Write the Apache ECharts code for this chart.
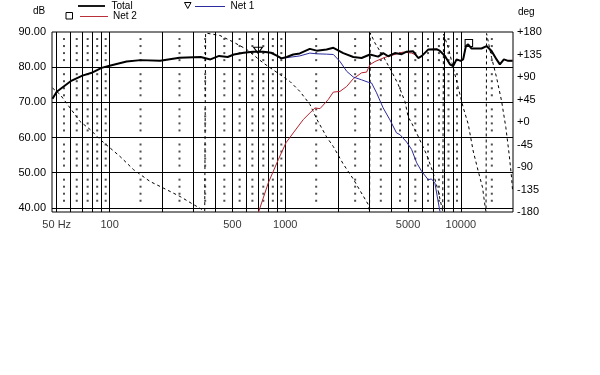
<!DOCTYPE html>
<html><head><meta charset="utf-8">
<script src="https://cdn.jsdelivr.net/npm/echarts@6/dist/echarts.min.js"></script>
<style>html,body{margin:0;padding:0;background:#fff}#c{width:600px;height:375px}</style>
</head><body><div id="c"></div>
<script>
// ---- data ----
const totalFreq = [47.3,50,60,70,80,90,100,125,150,194,250,330,375,420,470,510,580,655,750,830,900,950,1020,1110,1210,1380,1510,1720,1880,2140,2440,2720,3035,3380,3610,3860,4210,4600,4910,5350,5715,6000,6510,7270,7600,8110,8660,9040,9450,9960,10300,10680,11000,11500,13100,14000,14950,15960,16670,17570,18580,19700];
const totalDb   = [71.0,73.0,76.0,77.6,78.5,79.8,80.4,81.6,82.0,81.8,82.7,82.9,82.2,83.2,82.9,83.6,84.1,84.4,84.4,84.1,83.2,82.5,82.9,83.6,83.9,85.2,84.7,85.0,85.5,84.0,82.9,82.6,83.6,83.0,84.0,83.1,84.0,83.7,84.4,84.5,82.6,83.2,85.0,85.1,84.6,83.2,80.8,80.3,82.2,81.8,82.2,86.0,86.5,85.3,85.3,86.0,84.6,82.2,80.8,82.2,81.8,81.8];

const net1Freq = [580,655,750,830,900,950,1020,1210,1380,1510,1720,1880,2050,2240,2440,2720,2970,3100,3310,3610,3945,4300,4500,4910,5240,5600,5975,6510,6800,7110,7330,7600];
const net1Db   = [84.1,84.4,84.4,84.1,83.2,82.5,82.7,83.2,84.0,83.8,83.7,83.6,81.6,78.8,77.2,76.4,75.7,75.5,72.7,68.4,65.0,61.3,60.8,58.7,56.6,52.8,50.4,48.0,48.2,47.1,43.3,38.9];

const net2Freq = [705,801,913,1010,1111,1267,1383,1477,1577,1758,1877,2049,2237,2439,2723,2906,3035,3241,3614,3858,4307,4696,5243,5474,5715,6000,6510,7270,7600,8110,8660,9040,9450,9960,10300,10680,11000,11500,13100,14000,14950,15960,16670,17570,18580,19700];
const net2Db   = [38.8,47.1,53.7,58.5,61.3,65.1,67.0,68.4,68.2,70.8,72.9,73.1,74.5,76.7,78.4,78.6,80.7,81.6,82.6,83.1,83.75,84.3,84.0,83.6,82.6,83.2,85.0,85.1,84.6,83.2,80.8,80.3,82.2,81.8,82.2,86.0,86.5,85.3,85.3,86.0,84.6,82.2,80.8,82.2,81.8,81.8];

const phaseFreq = [47.3,52.3,59.6,67.9,77.5,88.3,100.7,114.7,136.6,170,202,252,300,348,
  352,425,506,604,750,933,1064,1213,1383,1510,1721,1877,2139,2439,2663,2969,3020,
  3050,3241,3614,4034,4398,4802,5013,5243,5597,6379,6957,7428,7768,7880,
  7960,8469,9042,9652,10306,11004,11749,12544,13284,13514,13785,13900,
  14000,14950,15964,17044,18030,18830,19430,19700];
const phaseDeg = [68,55,28,1,-15,-35,-52,-69,-95,-119,-132,-149,-165,-178,
  178,173,160,145,118,95,81,61,35,6,-30,-49,-84,-114,-137,-165,-178,
  178,158,131,101,75,41,10,-2,-22,-65,-102,-138,-169,-178,
  176,149,109,69,29,-4,-58,-98,-131,-151,-173,-179,
  177,129,89,42,-11,-65,-111,-138];

const markerNet1 = [700, 84.8];
const markerNet2 = [11100, 86.9];

// ---- axes / grid ----
const freqMin = 47, freqMax = 19800;
const dbMin = 38.8, dbMax = 90;
const dbLabels = [40,50,60,70,80,90];
const dbGridLines = [40,50,60,70,80];
const phaseMin = -180, phaseMax = 180, phaseStep = 45;
const solidFreqs = [50,60,70,80,90,100,200,300,400,500,600,700,800,900,1000,2000,3000,4000,5000,6000,7000,8000,9000,10000];
const dotFreqs = [55,65,75,85,95,150,250,350,450,550,650,750,850,950,1500,2500,3500,4500,5500,6500,7500,8500,9500,15000];
const dotLevels = [42,44,46,48,52,54,56,58,62,64,66,68,72,74,76,78,82,84,86,88];
const xLabelValues = [50,100,500,1000,5000,10000];
const xLabelTexts = ['50 Hz','100','500','1000','5000','10000'];

const zip = (a, b) => a.map((v, i) => [v, b[i]]);
const dots = [];
dotFreqs.forEach(f => dotLevels.forEach(l => dots.push([f, l])));

const FONT = 'Liberation Sans, Arial, sans-serif';
const chart = echarts.init(document.getElementById('c'), null, {renderer: 'canvas'});
chart.setOption({
  animation: false,
  backgroundColor: '#fff',
  grid: {left: 52, top: 32, width: 461, height: 180, show: true, borderColor: '#000', borderWidth: 1, backgroundColor: '#fff', outerBoundsMode: 'none'},
  xAxis: {type: 'log', logBase: 10, min: freqMin, max: freqMax,
    axisLine: {show: false}, axisTick: {show: false}, axisLabel: {show: false}, splitLine: {show: false}, minorSplitLine: {show: false}},
  yAxis: [
    {type: 'value', min: dbMin, max: dbMax, position: 'left',
      axisLine: {show: false}, axisTick: {show: false}, splitLine: {show: false},
      axisLabel: {customValues: dbLabels, formatter: v => Number(v).toFixed(2), color: '#000', fontSize: 11, fontFamily: FONT, margin: 6}},
    {type: 'value', min: phaseMin, max: phaseMax, interval: phaseStep, position: 'right',
      axisLine: {show: false}, axisTick: {show: false}, splitLine: {show: false},
      axisLabel: {formatter: v => (v >= 0 ? '+' : '') + v, color: '#000', fontSize: 11, fontFamily: FONT, margin: 4}}
  ],
  legend: [
    {data: ['Total'], left: 78, top: 1, padding: 0, selectedMode: false, icon: 'path://M0,0H30V2H0Z', itemWidth: 30, itemHeight: 1.8,
      textStyle: {fontSize: 10, color: '#000', fontFamily: FONT}},
    {data: ['Net 2'], left: 80, top: 11.5, padding: 0, selectedMode: false, icon: 'path://M0,0H30V1H0Z', itemWidth: 28, itemHeight: 1,
      textStyle: {fontSize: 10, color: '#000', fontFamily: FONT}},
    {data: ['Net 1'], left: 195, top: 1.5, padding: 0, selectedMode: false, icon: 'path://M0,0H30V1H0Z', itemWidth: 31, itemHeight: 1,
      textStyle: {fontSize: 10, color: '#000', fontFamily: FONT}}
  ],
  graphic: [
    {type: 'text', left: 33, top: 6.5, style: {text: 'dB', fontSize: 10, fontFamily: FONT, fill: '#000'}},
    {type: 'text', left: 518, top: 7, style: {text: 'deg', fontSize: 10, fontFamily: FONT, fill: '#000'}},
    {type: 'rect', shape: {x: 66, y: 12.5, width: 6.5, height: 6.5}, style: {fill: 'none', stroke: '#000', lineWidth: 1}},
    {type: 'polygon', shape: {points: [[184.5, 2.5], [191, 2.5], [187.75, 8.5]]}, style: {fill: 'none', stroke: '#000', lineWidth: 1}}
  ],
  series: [
    {name: 'grid', type: 'scatter', data: dots, symbol: 'rect', symbolSize: 2, z: 1, silent: true,
      itemStyle: {color: '#222'},
      markLine: {silent: true, symbol: 'none', z: 1, label: {show: false}, animation: false,
        lineStyle: {color: '#000', width: 1, type: 'solid'},
        emphasis: {disabled: true},
        data: solidFreqs.map(f => ({xAxis: f})).concat(dbGridLines.map(v => ({yAxis: v})))}},
    {name: 'Phase', type: 'line', yAxisIndex: 1, data: zip(phaseFreq, phaseDeg), showSymbol: false, symbol: 'none', silent: true,
      lineStyle: {color: '#000', width: 1, type: [3, 3]}, itemStyle: {color: '#000'}, z: 3},
    {name: 'Net 2', type: 'line', data: zip(net2Freq, net2Db), showSymbol: false, symbol: 'none', silent: true,
      lineStyle: {color: '#b5222e', width: 1}, itemStyle: {color: '#b5222e'}, z: 4,
      markPoint: {silent: true, symbol: 'rect', symbolSize: [7.5, 7], data: [{coord: markerNet2}],
        itemStyle: {color: 'rgba(0,0,0,0)', borderColor: '#000', borderWidth: 1}, label: {show: false}}},
    {name: 'Net 1', type: 'line', data: zip(net1Freq, net1Db), showSymbol: false, symbol: 'none', silent: true,
      lineStyle: {color: '#2b2b9e', width: 1}, itemStyle: {color: '#2b2b9e'}, z: 5,
      markPoint: {silent: true, symbol: 'path://M0,0L10,0L5,7Z', symbolSize: [9, 6], data: [{coord: markerNet1}],
        itemStyle: {color: 'rgba(0,0,0,0)', borderColor: '#000', borderWidth: 1}, label: {show: false}}},
    {name: 'Total', type: 'line', data: zip(totalFreq, totalDb), showSymbol: false, symbol: 'none', silent: true,
      lineStyle: {color: '#000', width: 2}, itemStyle: {color: '#000'}, z: 6},
    {name: 'xlabels', type: 'scatter', data: xLabelValues.map(v => [v, dbMin]), symbolSize: 1, clip: false, silent: true, z: 7,
      itemStyle: {color: 'rgba(0,0,0,0)'},
      label: {show: true, position: 'bottom', distance: 7, color: '#000', fontSize: 11, fontFamily: FONT,
        formatter: p => xLabelTexts[p.dataIndex]}}
  ]
});
</script>
</body></html>
